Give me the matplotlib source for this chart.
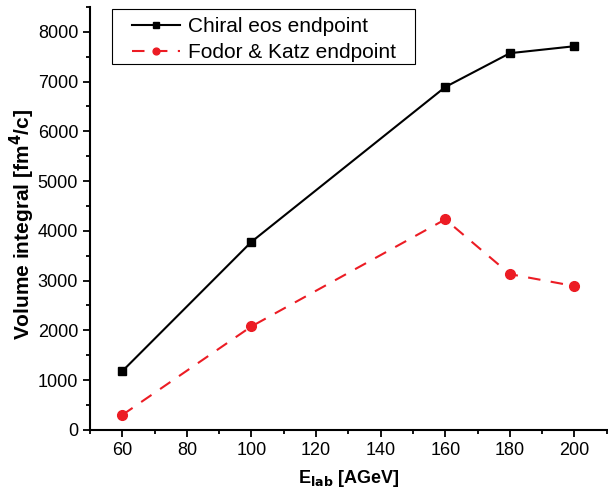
import matplotlib
matplotlib.use("Agg")
from matplotlib import pyplot as plt, ticker as mticker
from matplotlib.patches import Rectangle

plt.rcParams["font.family"] = ["Liberation Sans", "DejaVu Sans"]

# data
e_lab = [60, 100, 160, 180, 200]
chiral = [1180, 3780, 6890, 7570, 7710]
fodor_katz = [300, 2080, 4230, 3130, 2890]

fig = plt.figure(figsize=(6.08, 4.93), dpi=100)
ax = fig.add_axes([0.148, 0.128, 0.85, 0.858])

ax.plot(e_lab, chiral, color="black", lw=1.5, marker="s", ms=6,
        label="Chiral eos endpoint")
ax.plot(e_lab, fodor_katz, color="#ec1c24", lw=1.5, ls=(0, (6, 5)), marker="o", ms=7,
        label="Fodor & Katz endpoint")

ax.set_xlim(50, 210)
ax.set_ylim(0, 8500)
ax.xaxis.set_major_locator(mticker.MultipleLocator(20))
ax.xaxis.set_minor_locator(mticker.MultipleLocator(10))
ax.yaxis.set_major_locator(mticker.MultipleLocator(1000))
ax.yaxis.set_minor_locator(mticker.MultipleLocator(500))
ax.xaxis.set_major_formatter(mticker.FuncFormatter(lambda v, p: "" if v < 60 else f"{v:.0f}"))

for s in ["top", "right"]:
    ax.spines[s].set_visible(False)
for s in ["left", "bottom"]:
    ax.spines[s].set_linewidth(1.5)
ax.tick_params(which="major", length=5, width=1.3, labelsize=13, direction="out")
ax.tick_params(which="minor", length=3, width=1.3, direction="out")

ax.set_xlabel("E$_{\\mathbf{lab}}$ [AGeV]", fontsize=13, fontweight="bold", labelpad=7)
ax.set_ylabel("Volume integral [fm$^\\mathbf{4}$/c]", fontsize=15, fontweight="bold")
ax.yaxis.set_label_coords(-0.102, 0.485)

# legend box is wider than matplotlib's padding gives, so draw it separately
ax.add_patch(Rectangle((0.0426, 0.865), 0.586, 0.130, transform=ax.transAxes,
                       fill=False, edgecolor="black", lw=0.8, clip_on=False, zorder=5))
leg = ax.legend(loc="upper left", bbox_to_anchor=(0.0735, 0.986), fontsize=15,
                frameon=False, handlelength=2.3, borderpad=0.2, labelspacing=0.35,
                handletextpad=0.4, borderaxespad=0, markerscale=0.7)

fig.savefig("out.png", dpi=100)
